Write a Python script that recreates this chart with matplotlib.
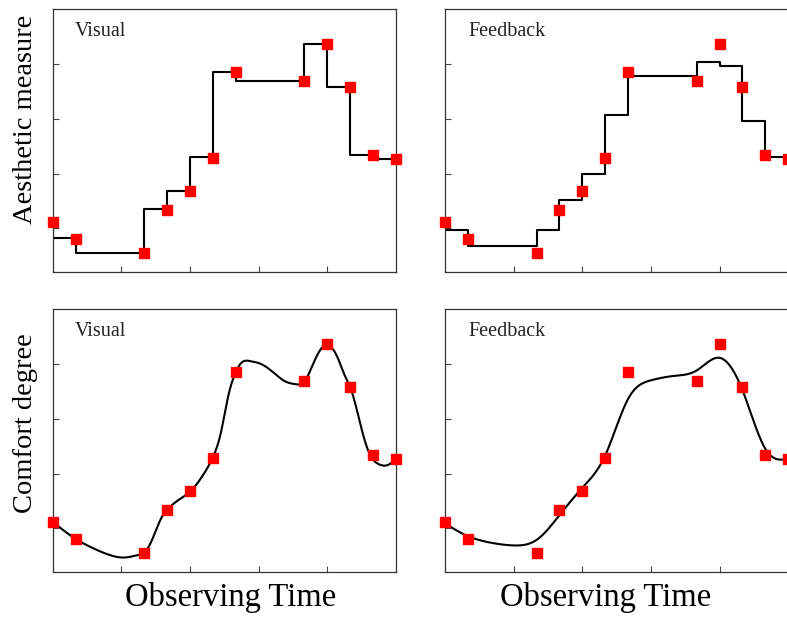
import numpy as np
from matplotlib import pyplot as plt

plt.rcParams["font.family"] = ["Liberation Serif", "DejaVu Serif"]

# observation instants (same for every panel)
obs_time = [0, 1, 4, 5, 6, 7, 8, 11, 12, 13, 14, 15]
# red squares: measured values (same in all four panels)
measured = [1.12, 0.81, 0.556, 1.34, 1.68, 2.29, 3.85, 3.68, 4.37, 3.57, 2.33, 2.27]

# top left: step line through the measurements
visual_steps = [1.12, 0.82, 0.556, 1.35, 1.69, 2.30, 3.86, 3.69, 4.37, 3.57, 2.33, 2.27]
# top right: feedback step line
feedback_steps = [0.98, 0.98, 0.68, 0.965, 1.52, 2.00, 3.07, 3.77, 4.04, 3.97, 2.95, 2.31]

# bottom left: smooth visual curve
visual_curve_t = [0, 1, 1.78, 2.5, 3.16, 3.74, 4, 4.4, 4.77, 5, 5.5, 6, 6.5, 7,
                  7.35, 7.65, 8, 8.2, 8.63, 9.14, 9.65, 10.16, 10.6, 11, 11.4,
                  11.76, 12, 12.42, 12.78, 13, 13.29, 13.58, 13.87, 14.31, 14.6, 15]
visual_curve = [1.12, 0.81, 0.636, 0.514, 0.47, 0.514, 0.556, 0.85, 1.21, 1.34,
                1.52, 1.67, 1.93, 2.30, 2.75, 3.38, 3.85, 4.0, 4.05, 3.99, 3.84,
                3.68, 3.63, 3.68, 4.02, 4.29, 4.34, 4.14, 3.77, 3.57, 3.16, 2.68,
                2.34, 2.16, 2.15, 2.27]

# bottom right: smooth feedback curve, read at whole time units
feedback_curve_t = list(range(16))
feedback_curve = [1.09, 0.86, 0.74, 0.69, 0.79, 1.24, 1.74, 2.33,
                  3.36, 3.70, 3.78, 3.88, 4.11, 3.52, 2.45, 2.27]

panel_names = ["Visual", "Feedback"]
ylabels = ["Aesthetic measure", "Comfort degree"]
xlabel = "Observing Time"


def natural_spline(x, y, n=800):
    # plain natural cubic spline, used only to draw a smooth line through knots
    x = np.asarray(x, float)
    y = np.asarray(y, float)
    k = len(x)
    h = np.diff(x)
    A = np.zeros((k, k))
    b = np.zeros(k)
    A[0, 0] = A[-1, -1] = 1
    for i in range(1, k - 1):
        A[i, i - 1] = h[i - 1]
        A[i, i] = 2 * (h[i - 1] + h[i])
        A[i, i + 1] = h[i]
        b[i] = 6 * ((y[i + 1] - y[i]) / h[i] - (y[i] - y[i - 1]) / h[i - 1])
    m = np.linalg.solve(A, b)
    xs = np.linspace(x[0], x[-1], n)
    j = np.clip(np.searchsorted(x, xs) - 1, 0, k - 2)
    t = xs - x[j]
    hj = h[j]
    ys = (m[j] * (x[j + 1] - xs) ** 3 / (6 * hj) + m[j + 1] * t ** 3 / (6 * hj)
          + (y[j] / hj - m[j] * hj / 6) * (x[j + 1] - xs)
          + (y[j + 1] / hj - m[j + 1] * hj / 6) * t)
    return xs, ys


fig = plt.figure(figsize=(7.87, 6.21), dpi=100)

lefts = [0.0670, 0.5654]
bottoms = [0.5615, 0.0784]
w, h = 0.4362, 0.424

axes = [[fig.add_axes([l, b, w, h]) for l in lefts] for b in bottoms]

for row in range(2):
    for col in range(2):
        ax = axes[row][col]
        ax.set_xlim(0, 15)
        ax.set_ylim(0.2, 5.0)
        ax.set_xticks([3, 6, 9, 12])
        ax.set_yticks([1, 2, 3, 4])
        ax.tick_params(direction="in", length=4, width=0.8, color="#444444",
                       labelbottom=False, labelleft=False)
        for s in ax.spines.values():
            s.set_color("#333333")
            s.set_linewidth(0.9)
        ax.text(0.063 if col == 0 else 0.068, 0.896, panel_names[col],
                transform=ax.transAxes, fontsize=14.5, va="baseline",
                color="#222222")

# top row: step lines
axes[0][0].step(obs_time, visual_steps, where="pre", color="black", lw=1.5, zorder=2)
axes[0][1].step(obs_time, feedback_steps, where="pre", color="black", lw=1.5, zorder=2)

# bottom row: smooth lines
xs, ys = natural_spline(visual_curve_t, visual_curve)
axes[1][0].plot(xs, ys, color="black", lw=1.5, zorder=2)
xs, ys = natural_spline(feedback_curve_t, feedback_curve)
axes[1][1].plot(xs, ys, color="black", lw=1.5, zorder=2)

for row in range(2):
    for col in range(2):
        axes[row][col].plot(obs_time, measured, "s", color="red", ms=6.8,
                            mec="red", clip_on=False, zorder=3)

axes[0][0].set_ylabel(ylabels[0], fontsize=20.5)
axes[0][0].yaxis.set_label_coords(-0.043, 0.580)
axes[1][0].set_ylabel(ylabels[1], fontsize=20.5)
axes[1][0].yaxis.set_label_coords(-0.043, 0.566)

axes[1][0].set_xlabel(xlabel, fontsize=23.5)
axes[1][0].xaxis.set_label_coords(0.519, -0.035)
axes[1][1].set_xlabel(xlabel, fontsize=23.5)
axes[1][1].xaxis.set_label_coords(0.468, -0.035)

fig.savefig("out.png", dpi=100)
